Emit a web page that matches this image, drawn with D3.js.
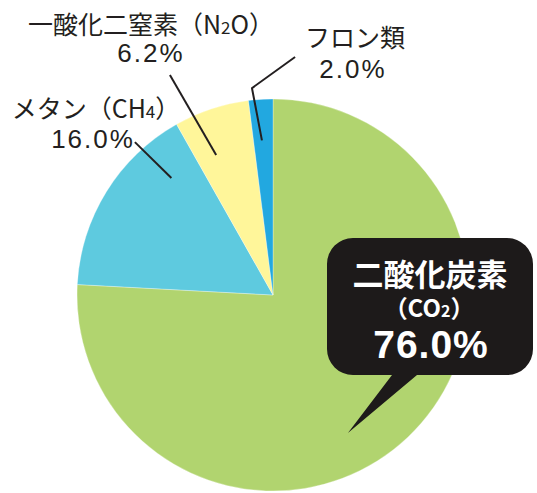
<!DOCTYPE html>
<html>
<head>
<meta charset="utf-8">
<script src="https://cdn.jsdelivr.net/npm/d3@7"></script>
<style>
  body { margin: 0; background: #fff; }
  svg text { font-family: "Noto Sans CJK JP", "Noto Sans", sans-serif; }
</style>
</head>
<body>
<div id="container"></div>
<script>
// data
const categories = ["二酸化炭素", "メタン", "一酸化二窒素", "フロン類"];
const formulaHead = ["CO", "CH", "N", ""];
const formulaSub = ["2", "4", "2", ""];
const formulaTail = ["", "", "O", ""];
const values = [76.0, 16.0, 6.2, 2.0];
const colors = ["#b1d46f", "#5ecadf", "#fff69a", "#22a8e0"];

const w = 537;
const h = 493;
const cx = 273;
const cy = 295;
const r = 196;

const svg = d3.select("#container")
  .append("svg")
  .attr("width", w)
  .attr("height", h);

const pie = d3.pie()
  .sort(null)
  .value((d) => d);

const arcs = pie(values);

const arc = d3.arc()
  .innerRadius(0)
  .outerRadius(r);

const g = svg.append("g")
  .attr("transform", "translate(" + cx + "," + cy + ")");

g.selectAll("path")
  .data(arcs)
  .enter()
  .append("path")
  .attr("d", arc)
  .attr("fill", (d, i) => colors[i])
  .attr("stroke", "#ffffff")
  .attr("stroke-opacity", 0.5)
  .attr("stroke-width", 0.6);

// leader lines: start at a fraction along the slice, then polar points [deg, radius]
const deg = Math.PI / 180;
const leaders = [
  null,
  { f: 0.80, r0: 155, pts: [[317.9, 206]] },
  { f: 0.33, r0: 151, pts: [[334.9, 243]] },
  { f: 0.43, r0: 155, pts: [[354.2, 208], [5.3, 239]] }
];

const line = d3.line();
arcs.forEach((a, i) => {
  const L = leaders[i];
  if (!L) return;
  const ang = a.startAngle + L.f * (a.endAngle - a.startAngle);
  const p = [d3.pointRadial(ang, L.r0)];
  L.pts.forEach((q) => p.push(d3.pointRadial(q[0] * deg, q[1])));
  g.append("path")
    .attr("d", line(p))
    .attr("fill", "none")
    .attr("stroke", "#231f20")
    .attr("stroke-width", 2);
});

function addFormula(t, i, subSize) {
  t.append("tspan").text("（" + formulaHead[i]);
  t.append("tspan").style("font-size", subSize + "px").text(formulaSub[i]);
  t.append("tspan").text(formulaTail[i] + "）");
}

// outside labels
const labelPos = [
  null,
  { x: 96, y1: 118, x2: 93, y2: 148 },
  { x: 151, y1: 34, x2: 151, y2: 62 },
  { x: 355, y1: 47, x2: 353, y2: 78 }
];

arcs.forEach((a, i) => {
  const P = labelPos[i];
  if (!P) return;
  const t = svg.append("text")
    .attr("x", P.x)
    .attr("y", P.y1)
    .attr("text-anchor", "middle")
    .style("font-size", "25px")
    .style("font-weight", 400)
    .attr("fill", "#231f20");
  t.append("tspan").text(categories[i]);
  if (formulaHead[i]) addFormula(t, i, 17);
  svg.append("text")
    .attr("x", P.x2)
    .attr("y", P.y2)
    .attr("text-anchor", "middle")
    .style("font-size", "26px")
    .style("letter-spacing", "2px")
    .style("font-family", "'Liberation Sans', sans-serif")
    .attr("fill", "#231f20")
    .text(values[i].toFixed(1) + "%");
});

// callout for CO2
const bx = 327, by = 238, bw = 206, bh = 137, br = 26;
const tip = d3.pointRadial(151.5 * deg, 157);
const tx = cx + tip[0], ty = cy + tip[1];
const callout = d3.path();
callout.moveTo(bx + br, by);
callout.lineTo(bx + bw - br, by);
callout.arcTo(bx + bw, by, bx + bw, by + br, br);
callout.lineTo(bx + bw, by + bh - br);
callout.arcTo(bx + bw, by + bh, bx + bw - br, by + bh, br);
callout.lineTo(417, by + bh);
callout.lineTo(tx, ty);
callout.lineTo(392, by + bh);
callout.lineTo(bx + br, by + bh);
callout.arcTo(bx, by + bh, bx, by + bh - br, br);
callout.lineTo(bx, by + br);
callout.arcTo(bx, by, bx + br, by, br);
callout.closePath();

svg.append("path")
  .attr("d", callout.toString())
  .attr("fill", "#1d1a1a");

const mx = bx + bw / 2;
svg.append("text")
  .attr("x", mx)
  .attr("y", 286)
  .attr("text-anchor", "middle")
  .style("font-size", "31px")
  .style("font-weight", 700)
  .attr("fill", "#fff")
  .text(categories[0]);

const t2 = svg.append("text")
  .attr("x", mx - 1)
  .attr("y", 317)
  .attr("text-anchor", "middle")
  .style("font-size", "24px")
  .style("font-weight", 700)
  .attr("fill", "#fff");
addFormula(t2, 0, 16);

svg.append("text")
  .attr("x", mx + 1)
  .attr("y", 358)
  .attr("text-anchor", "middle")
  .style("font-size", "39px")
  .style("font-weight", 700)
  .style("letter-spacing", "1px")
  .style("font-family", "'Liberation Sans', sans-serif")
  .attr("fill", "#fff")
  .text(values[0].toFixed(1) + "%");
</script>
</body>
</html>
